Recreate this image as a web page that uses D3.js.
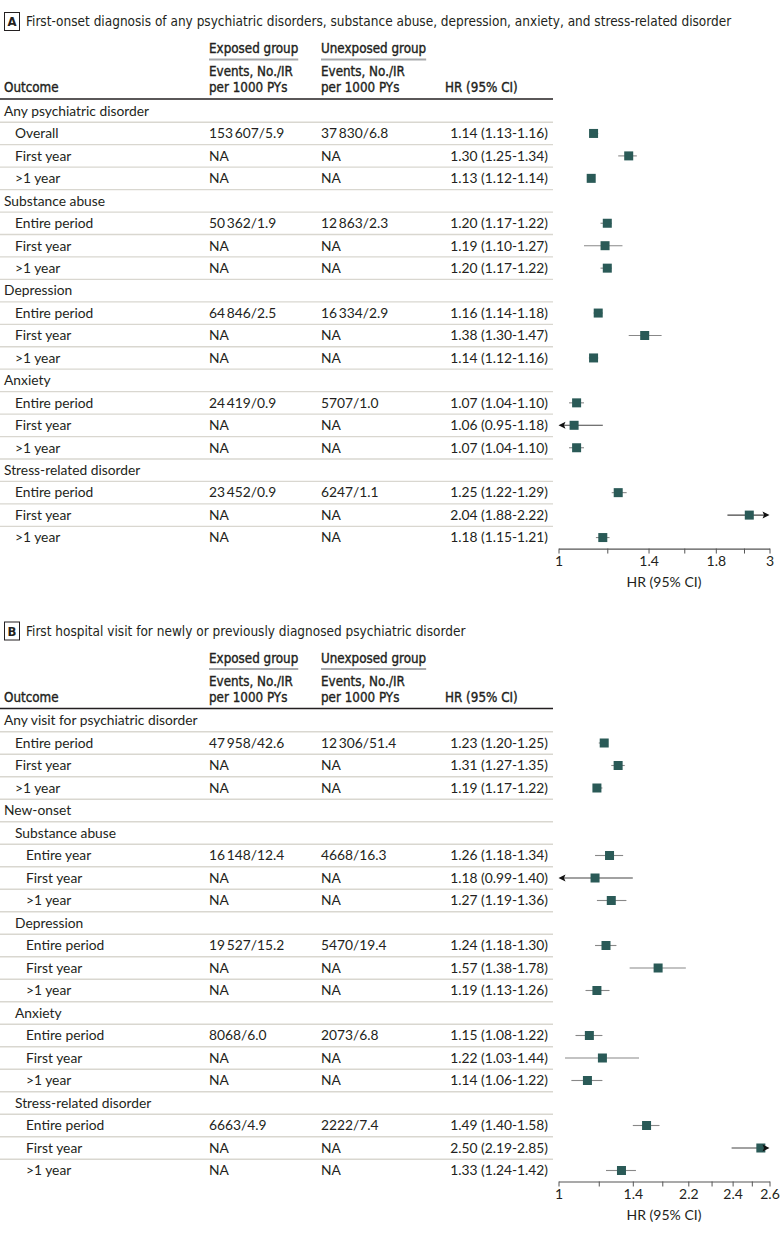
<!DOCTYPE html>
<html>
<head>
<meta charset="utf-8">
<script src="https://cdn.jsdelivr.net/npm/d3@7"></script>
<style>
  body { margin: 0; background: #fff; }
  text { fill: #231f20; }
</style>
</head>
<body>
<script>
// Panel A data
const labelsA = ["Any psychiatric disorder", "Overall", "First year", ">1 year",
  "Substance abuse", "Entire period", "First year", ">1 year",
  "Depression", "Entire period", "First year", ">1 year",
  "Anxiety", "Entire period", "First year", ">1 year",
  "Stress-related disorder", "Entire period", "First year", ">1 year"];
const levelsA = [0, 1, 1, 1, 0, 1, 1, 1, 0, 1, 1, 1, 0, 1, 1, 1, 0, 1, 1, 1];
const exposedA = ["", "153\u2009607/5.9", "NA", "NA", "", "50\u2009362/1.9", "NA", "NA",
  "", "64\u2009846/2.5", "NA", "NA", "", "24\u2009419/0.9", "NA", "NA", "", "23\u2009452/0.9", "NA", "NA"];
const unexposedA = ["", "37\u2009830/6.8", "NA", "NA", "", "12\u2009863/2.3", "NA", "NA",
  "", "16\u2009334/2.9", "NA", "NA", "", "5707/1.0", "NA", "NA", "", "6247/1.1", "NA", "NA"];
const hrA = [null, 1.14, 1.30, 1.13, null, 1.20, 1.19, 1.20, null, 1.16, 1.38, 1.14,
  null, 1.07, 1.06, 1.07, null, 1.25, 2.04, 1.18];
const loA = [null, 1.13, 1.25, 1.12, null, 1.17, 1.10, 1.17, null, 1.14, 1.30, 1.12,
  null, 1.04, 0.95, 1.04, null, 1.22, 1.88, 1.15];
const hiA = [null, 1.16, 1.34, 1.14, null, 1.22, 1.27, 1.22, null, 1.18, 1.47, 1.16,
  null, 1.10, 1.18, 1.10, null, 1.29, 2.22, 1.21];
const ticksA = [1, 1.2, 1.4, 1.6, 1.8, 2.0, 2.2];
const tickLabelsA = ["1", "", "1.4", "", "1.8", "", "3"];

// Panel B data
const labelsB = ["Any visit for psychiatric disorder", "Entire period", "First year", ">1 year",
  "New-onset", "Substance abuse", "Entire year", "First year", ">1 year",
  "Depression", "Entire period", "First year", ">1 year",
  "Anxiety", "Entire period", "First year", ">1 year",
  "Stress-related disorder", "Entire period", "First year", ">1 year"];
const levelsB = [0, 1, 1, 1, 0, 1, 2, 2, 2, 1, 2, 2, 2, 1, 2, 2, 2, 1, 2, 2, 2];
const exposedB = ["", "47\u2009958/42.6", "NA", "NA", "", "", "16\u2009148/12.4", "NA", "NA",
  "", "19\u2009527/15.2", "NA", "NA", "", "8068/6.0", "NA", "NA", "", "6663/4.9", "NA", "NA"];
const unexposedB = ["", "12\u2009306/51.4", "NA", "NA", "", "", "4668/16.3", "NA", "NA",
  "", "5470/19.4", "NA", "NA", "", "2073/6.8", "NA", "NA", "", "2222/7.4", "NA", "NA"];
const hrB = [null, 1.23, 1.31, 1.19, null, null, 1.26, 1.18, 1.27, null, 1.24, 1.57, 1.19,
  null, 1.15, 1.22, 1.14, null, 1.49, 2.50, 1.33];
const loB = [null, 1.20, 1.27, 1.17, null, null, 1.18, 0.99, 1.19, null, 1.18, 1.38, 1.13,
  null, 1.08, 1.03, 1.06, null, 1.40, 2.19, 1.24];
const hiB = [null, 1.25, 1.35, 1.22, null, null, 1.34, 1.40, 1.36, null, 1.30, 1.78, 1.26,
  null, 1.22, 1.44, 1.22, null, 1.58, 2.85, 1.42];
const ticksB = [1, 1.2, 1.4, 1.6, 1.8, 2.0, 2.2, 2.4, 2.6];
const tickLabelsB = ["1", "", "1.4", "", "2.2", "", "2.4", "", "2.6"];

const width = 780, height = 1234;
const bodyFont = "Lato, sans-serif";
const headFont = "'Liberation Sans Narrow', 'DejaVu Sans Condensed', sans-serif";

const svg = d3.select("body").append("svg")
  .attr("width", width)
  .attr("height", height);

const tableRight = 553;
const colExp = 209, colUnexp = 321, colHR = 445, hrRight = 548;
const markColor = "#2a5a57";

function drawPanel(top, letter, title, labels, levels, exposed, unexposed, hr, lo, hi, ticks, tickLabels, rowStep) {
  const g = svg.append("g").attr("transform", `translate(0,${top})`);

  // panel letter + title
  g.append("rect")
    .attr("x", 4.5).attr("y", 12.5)
    .attr("width", 15).attr("height", 18)
    .attr("fill", "none").attr("stroke", "#231f20").attr("stroke-width", 1);
  g.append("text")
    .attr("x", 12).attr("y", 26)
    .attr("text-anchor", "middle")
    .style("font", `bold 13px ${headFont}`)
    .text(letter);
  g.append("text")
    .attr("x", 26).attr("y", 26)
    .style("font", `13.5px ${headFont}`)
    .text(title);

  // column headers
  const head = g.append("g")
    .style("font", `13.3px ${headFont}`)
    .style("stroke", "#231f20")
    .style("stroke-width", 0.35);
  const expHead = head.append("text").attr("x", colExp).attr("y", 53).text("Exposed group");
  const unexpHead = head.append("text").attr("x", colUnexp).attr("y", 53).text("Unexposed group");
  [expHead, unexpHead].forEach(t => {
    const w = t.node().getComputedTextLength();
    g.append("line")
      .attr("x1", +t.attr("x")).attr("x2", +t.attr("x") + w)
      .attr("y1", 59.5).attr("y2", 59.5)
      .attr("stroke", "#a7a9ac").attr("stroke-width", 2);
  });
  head.append("text").attr("x", colExp).attr("y", 76).text("Events, No./IR");
  head.append("text").attr("x", colExp).attr("y", 92).text("per 1000 PYs");
  head.append("text").attr("x", colUnexp).attr("y", 76).text("Events, No./IR");
  head.append("text").attr("x", colUnexp).attr("y", 92).text("per 1000 PYs");
  head.append("text").attr("x", 4).attr("y", 92).text("Outcome");
  head.append("text").attr("x", colHR).attr("y", 92).text("HR (95% CI)");

  g.append("line")
    .attr("x1", 0).attr("x2", tableRight)
    .attr("y1", 99).attr("y2", 99)
    .attr("stroke", "#231f20").attr("stroke-width", 1.5);

  const n = labels.length;
  const y = d3.scalePoint()
    .domain(d3.range(n))
    .range([111, 111 + rowStep * (n - 1)]);

  // row separators
  g.append("g").selectAll("line")
    .data(d3.range(n - 1))
    .join("line")
    .attr("x1", 0).attr("x2", tableRight)
    .attr("y1", i => y(i) + rowStep / 2).attr("y2", i => y(i) + rowStep / 2)
    .attr("stroke", "#d9d7d0").attr("stroke-width", 1.3);

  const rows = g.append("g").style("font", `13.8px ${bodyFont}`);
  const indent = [4, 15, 26];
  rows.selectAll("text.lab")
    .data(labels)
    .join("text")
    .attr("class", "lab")
    .attr("x", (d, i) => indent[levels[i]])
    .attr("y", (d, i) => y(i))
    .attr("dy", "0.35em")
    .text(d => d);
  rows.selectAll("text.exp")
    .data(exposed)
    .join("text")
    .attr("class", "exp")
    .attr("x", colExp)
    .attr("y", (d, i) => y(i))
    .attr("dy", "0.35em")
    .text(d => d);
  rows.selectAll("text.unexp")
    .data(unexposed)
    .join("text")
    .attr("class", "unexp")
    .attr("x", colUnexp)
    .attr("y", (d, i) => y(i))
    .attr("dy", "0.35em")
    .text(d => d);
  rows.selectAll("text.hr")
    .data(hr)
    .join("text")
    .attr("class", "hr")
    .attr("x", hrRight)
    .attr("y", (d, i) => y(i))
    .attr("dy", "0.35em")
    .attr("text-anchor", "end")
    .text((d, i) => d == null ? "" : `${d.toFixed(2)} (${lo[i].toFixed(2)}-${hi[i].toFixed(2)})`);

  // forest plot
  const x = d3.scaleLog()
    .domain([ticks[0], ticks[ticks.length - 1]])
    .range([558.5, 769.5]);
  const [dmin, dmax] = x.domain();
  const plot = g.append("g");
  const idx = d3.range(n).filter(i => hr[i] != null);

  idx.forEach(i => {
    const cy = y(i);
    const clipL = lo[i] < dmin, clipR = hi[i] > dmax;
    const x1 = x(Math.max(lo[i], dmin)), x2 = x(Math.min(hi[i], dmax));
    plot.append("line")
      .attr("x1", clipL ? x1 + 4 : x1).attr("x2", clipR ? x2 - 4 : x2)
      .attr("y1", cy).attr("y2", cy)
      .attr("stroke", (clipL || clipR) ? "#444" : "#888")
      .attr("stroke-width", 1.1);
    plot.append("rect")
      .attr("x", x(hr[i]) - 4.5).attr("y", cy - 4.5)
      .attr("width", 9).attr("height", 9)
      .attr("fill", markColor);
    if (clipL) {
      plot.append("path")
        .attr("d", `M${x1},${cy}L${x1 + 7},${cy - 3.5}L${x1 + 5.5},${cy}L${x1 + 7},${cy + 3.5}Z`)
        .attr("fill", "#111");
    }
    if (clipR) {
      plot.append("path")
        .attr("d", `M${x2},${cy}L${x2 - 7},${cy - 3.5}L${x2 - 5.5},${cy}L${x2 - 7},${cy + 3.5}Z`)
        .attr("fill", "#111");
    }
  });

  const axisY = y(n - 1) + 11;
  const axis = g.append("g")
    .attr("transform", `translate(0,${axisY})`)
    .call(d3.axisBottom(x)
      .tickValues(ticks)
      .tickFormat((d, i) => tickLabels[i])
      .tickSizeInner(5)
      .tickSizeOuter(0));
  axis.select(".domain").attr("stroke", "#555").attr("stroke-width", 1.2);
  axis.selectAll(".tick line").attr("stroke", "#555");
  axis.selectAll(".tick text")
    .attr("y", 8)
    .style("font", `14px ${bodyFont}`)
    .attr("fill", "#231f20");

  g.append("text")
    .attr("x", (x.range()[0] + x.range()[1]) / 2)
    .attr("y", axisY + 38)
    .attr("text-anchor", "middle")
    .style("font", `14px ${bodyFont}`)
    .text("HR (95% CI)");
}

drawPanel(0, "A",
  "First-onset diagnosis of any psychiatric disorders, substance abuse, depression, anxiety, and stress-related disorder",
  labelsA, levelsA, exposedA, unexposedA, hrA, loA, hiA, ticksA, tickLabelsA, 22.45);

drawPanel(609.5, "B",
  "First hospital visit for newly or previously diagnosed psychiatric disorder",
  labelsB, levelsB, exposedB, unexposedB, hrB, loB, hiB, ticksB, tickLabelsB, 22.5);
</script>
</body>
</html>
